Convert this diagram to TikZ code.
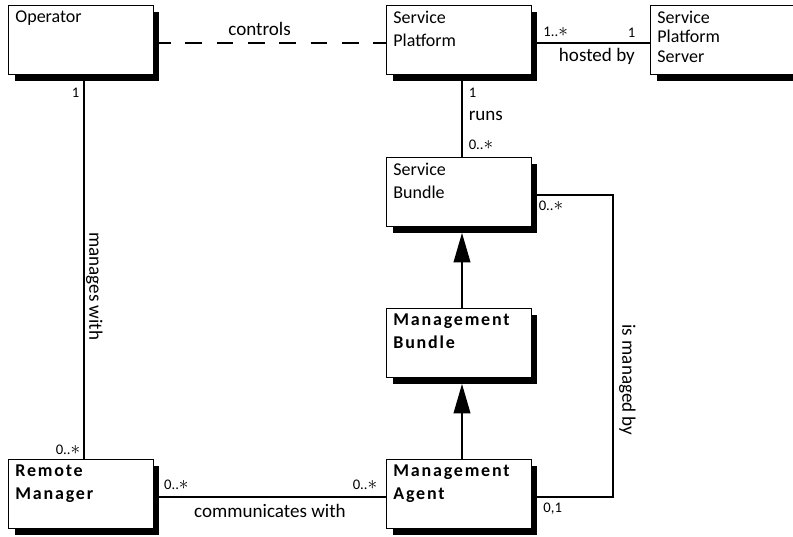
\documentclass[tikz,border=0pt]{standalone}
\usepackage{fontspec}
\setmainfont{Carlito}
\newfontface\clsbf{Carlito Bold}[LetterSpace=10]
\newcommand{\many}{{\fontsize{15}{15}\selectfont$\ast$}}
\usetikzlibrary{arrows.meta, positioning, calc, shadows, backgrounds}

\begin{document}
\begin{tikzpicture}[
    x=0.75pt, y=-0.75pt,
    cls/.style={draw, line width=1.1pt, fill=white, anchor=north west,
        inner xsep=5pt, inner ysep=4pt, font=\fontsize{13.5}{17.5}\selectfont,
        general shadow={fill=black, shadow xshift=4.5pt, shadow yshift=-4.5pt},
        execute at begin node={\begin{minipage}[t][43.75pt][t]{98.4pt}\raggedright},
        execute at end node={\end{minipage}}},
    clsb/.style={cls, font=\fontsize{13.5}{17}\clsbf},
    assoc/.style={line width=1.2pt},
    gen/.style={line width=1.2pt, -{Triangle[length=22pt, width=12.5pt]}, shorten >=4.1pt},
    lbl/.style={font=\fontsize{14.3}{16}\selectfont, inner sep=1pt},
    mult/.style={font=\fontsize{11}{12}\selectfont, inner sep=0pt},
]
\useasboundingbox (0,0) rectangle (793,536);

% classes
\node[cls] (op) at (8,5) {Operator};
\node[cls] (sp) at (386,5) {Service\\Platform};
\node[cls, font=\fontsize{13.5}{14.6}\selectfont] (sps) at (650,5) {Service\\Platform\\Server};
\node[cls] (sb) at (386,157) {Service\\Bundle};
\node[clsb] (mb) at (386,308) {Management\\Bundle};
\node[clsb] (ma) at (386,459) {Management\\Agent};
\node[clsb] (rm) at (8,459) {Remote\\Manager};
\coordinate (mgd) at (613,380);

\begin{scope}[on background layer]
    % associations
    \draw[assoc, dash pattern=on 12.5pt off 11pt] ([yshift=-2.25pt]op.east) --
        node[lbl, above=4pt, pos=0.455] (ctl) {controls} ([yshift=-2.25pt]sp.west);
    \draw[assoc] ([yshift=-2.25pt]sp.east) --
        node[mult, pos=0, anchor=south west, xshift=8pt, yshift=4pt] (m1) {1..\many}
        node[mult, pos=1, anchor=south east, xshift=-10.5pt, yshift=4pt] (m2) {1}
        node[lbl, below=2pt, pos=0.55] (hb) {hosted by} ([yshift=-2.25pt]sps.west);
    \draw[assoc] ([xshift=2.25pt]sp.south) --
        node[mult, pos=0, anchor=north west, xshift=4.5pt, yshift=-9pt] (m3) {1}
        node[lbl, right=3.5pt] (rn) {runs}
        node[mult, pos=1, anchor=south west, xshift=4.5pt, yshift=5pt] (m4) {0..\many}
        ([xshift=2.25pt]sb.north);
    \draw[assoc] ([xshift=2.25pt]op.south) --
        node[mult, pos=0, anchor=north east, xshift=-3pt, yshift=-9pt] (m5) {1}
        node[lbl, pos=0.55, anchor=south, rotate=-90] (mw) {manages with}
        node[mult, pos=1, anchor=south east, xshift=-2.25pt, yshift=3pt] (m6) {0..\many}
        ([xshift=2.25pt]rm.north);
    \draw[assoc] ([yshift=-2.25pt]sb.east) -|
        node[mult, pos=0, anchor=north west, xshift=4.5pt, yshift=-3.5pt] (m7) {0..\many}
        node[lbl, pos=1, anchor=south, rotate=-90, inner sep=4pt] (imb) {is managed by} (mgd)
        |- node[mult, pos=1, anchor=north west, xshift=8pt, yshift=-4pt] (m8) {0,1}
        ([yshift=-2.25pt]ma.east);
    \draw[assoc] ([yshift=-2.25pt]rm.east) --
        node[mult, pos=0, anchor=south west, xshift=7pt, yshift=5pt] (m9) {0..\many}
        node[lbl, below=4pt] (cw) {communicates with}
        node[mult, pos=1, anchor=south east, xshift=-6pt, yshift=5pt] (m10) {0..\many}
        ([yshift=-2.25pt]ma.west);
    % generalisations
    \draw[gen] ([xshift=2.25pt]mb.north) -- ([xshift=2.25pt]sb.south);
    \draw[gen] ([xshift=2.25pt]ma.north) -- ([xshift=2.25pt]mb.south);
\end{scope}

\end{tikzpicture}
\end{document}
